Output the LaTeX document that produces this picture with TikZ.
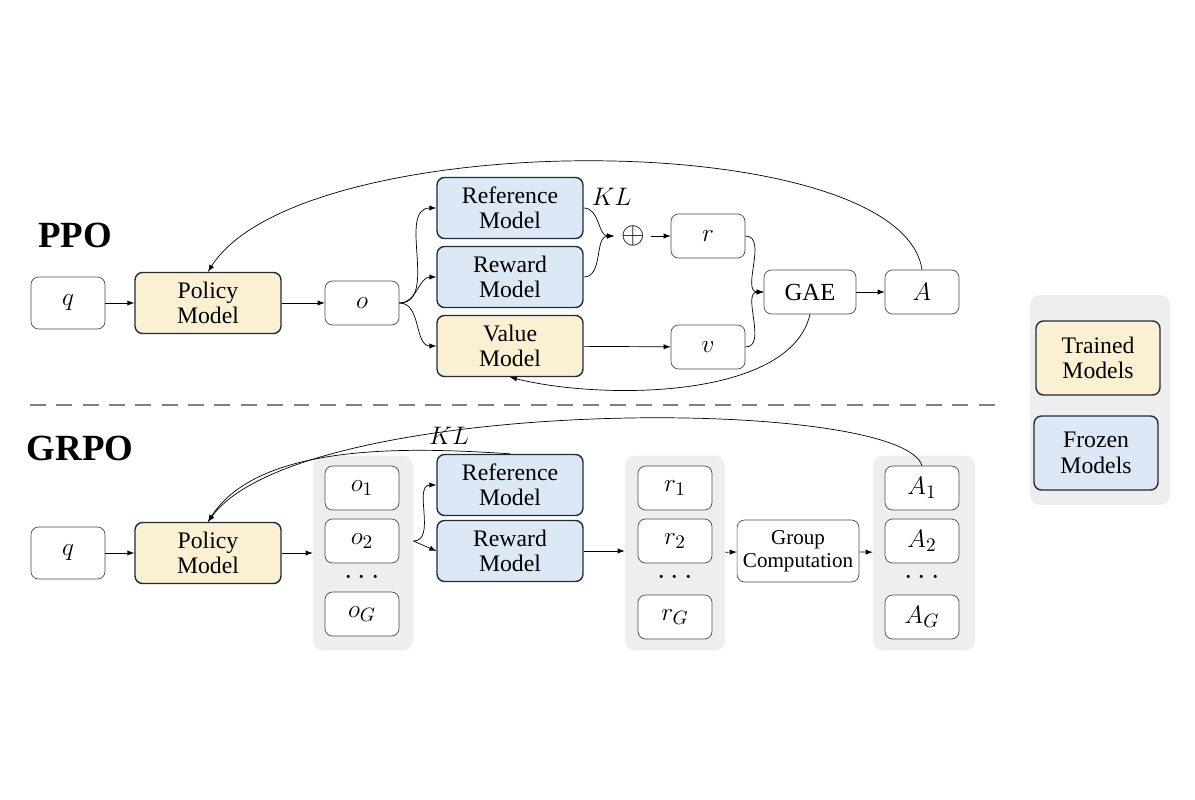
\documentclass[tikz,border=0pt]{standalone}
\usepackage{fontspec}
\setmainfont{Liberation Serif}
\usetikzlibrary{positioning}
\usetikzlibrary{calc}
\usetikzlibrary{arrows}
\definecolor{trainedc}{RGB}{251,241,210}
\definecolor{frozenc}{RGB}{220,232,245}
\definecolor{groupc}{RGB}{238,238,238}
\definecolor{edgec}{RGB}{30,45,60}
\tikzset{
  box/.style       = { rectangle, rounded corners=1.5mm, draw=black!70, fill=white, align=center, font=\fontsize{13}{14}\selectfont },
  var/.style       = { box, minimum width=1.48cm, minimum height=0.88cm, font=\fontsize{15}{15}\selectfont },
  model/.style     = { box, thick, draw=edgec, minimum width=2.92cm, minimum height=1.22cm, font=\fontsize{13.5}{14.5}\selectfont },
  trained/.style   = { model, fill=trainedc },
  frozen/.style    = { model, fill=frozenc },
  group/.style     = { draw=none, fill=groupc, rounded corners=2mm },
  title/.style     = { font=\bfseries\fontsize{21}{21}\selectfont },
  dots/.style      = { font=\fontsize{17}{17}\selectfont },
}
\begin{document}
\begin{tikzpicture}[x=0.02cm,y=-0.02cm,>=latex,thin,black]
  \useasboundingbox (0,0) rectangle (1195,800);

  % PPO
  \node [title] (ppo) at (75,235) {PPO};
  \node [var,minimum height=1.04cm] (q1) at (68,303) {$q$};
  \node [trained] (pol1) at (208,303) {Policy\\Model};
  \node [var] (o) at (362,303) {$o$};
  \node [frozen] (ref1) at (510,208) {Reference\\Model};
  \node [frozen] (rew1) at (510,277) {Reward\\Model};
  \node [trained] (val1) at (510,346) {Value\\Model};
  \node [font=\fontsize{18}{18}\selectfont] (plus) at (633,236) {$\oplus$};
  \coordinate (kl) at (614,236);
  \node [var] (r) at (708,236) {$r$};
  \node [var] (v) at (708,347) {$v$};
  \node [var,minimum width=1.84cm,font=\fontsize{14}{15}\selectfont] (gae) at (810,292) {GAE};
  \node [var] (a) at (922,292) {$A$};

  \draw [->] (q1) -- (pol1);
  \draw [->] (pol1) -- (o);
  \draw [->] (o.east) to [out=0,in=180] (ref1.west);
  \draw [->] (o.east) to [out=0,in=180] (rew1.west);
  \draw [->] (o.east) to [out=0,in=180] (val1.west);
  \draw [->] (ref1.east) to [out=0,in=180] node [pos=0.1,above right=-2pt,font=\fontsize{14}{14}\selectfont] {$KL$} (kl);
  \draw [->] (rew1.east) to [out=0,in=180] (kl);
  \draw [->] (plus) -- (r);
  \draw [->] (val1) -- (v);
  \draw [->] (r.east) to [out=0,in=180] (gae.west);
  \draw [->] (v.east) to [out=0,in=180] (gae.west);
  \draw [->] (gae) -- (a);
  \draw [->] (a.north) .. controls (900,125) and (300,125) .. (pol1.north);
  \draw [->] (gae.south) .. controls (790,400) and (600,400) .. (val1.south);

  % divider
  \draw [gray,line width=1.6pt,dash pattern=on 9pt off 6pt] (30,405) -- (995,405);

  % legend
  \node [group,minimum width=2.8cm,minimum height=4.2cm] (leg) at (1100,400) {};
  \node [trained,minimum width=2.48cm,minimum height=1.48cm] (tr) at (1098,358) {Trained\\Models};
  \node [frozen,minimum width=2.48cm,minimum height=1.48cm] (fr) at (1096,453) {Frozen\\Models};

  % GRPO
  \node [title] (grpo) at (80,448) {GRPO};
  \node [var,minimum height=1.04cm] (q2) at (68,553) {$q$};
  \node [trained] (pol2) at (208,553) {Policy\\Model};
  \node [group,minimum width=2cm,minimum height=3.9cm] (og) at (363,553) {};
  \node [group,minimum width=2cm,minimum height=3.9cm] (rg) at (675,553) {};
  \node [group,minimum width=2.04cm,minimum height=3.9cm] (ag) at (924,553) {};
  \node [var] (o1) at (362,488) {$o_1$};
  \node [var] (o2) at (362,541) {$o_2$};
  \node [dots] (od) at (362,578) {$\cdots$};
  \node [var] (oG) at (362,614) {$o_G$};
  \node [frozen] (ref2) at (510,485) {Reference\\Model};
  \node [frozen] (rew2) at (510,551) {Reward\\Model};
  \node [var] (r1) at (675,488) {$r_1$};
  \node [var] (r2) at (675,541) {$r_2$};
  \node [dots] (rd) at (675,578) {$\cdots$};
  \node [var] (rG) at (675,617) {$r_G$};
  \node [box,minimum width=2.28cm,minimum height=1.24cm,font=\fontsize{12}{13}\selectfont] (grp) at (798,551) {Group\\Computation};
  \node [var] (a1) at (922,488) {$A_1$};
  \node [var] (a2) at (922,541) {$A_2$};
  \node [dots] (ad) at (922,578) {$\cdots$};
  \node [var] (aG) at (922,617) {$A_G$};

  \draw [->] (q2) -- (pol2);
  \draw [->] (pol2) -- (og);
  \draw [->] (og.east |- o2) to [out=0,in=180] (ref2.west);
  \draw [->] (og.east |- o2) -- (rew2.west);
  \draw [->] (rew2) -- (rg.west |- rew2);
  \draw [->] (rg) -- (grp);
  \draw [->] (grp) -- (ag);
  \draw [->] (ref2.north) .. controls (420,448) and (260,440) .. node [pos=0.2,above,font=\fontsize{14}{14}\selectfont] {$KL$} (pol2.north);
  \draw [->] (a1.north) .. controls (900,395) and (300,395) .. (pol2.north);
\end{tikzpicture}
\end{document}
